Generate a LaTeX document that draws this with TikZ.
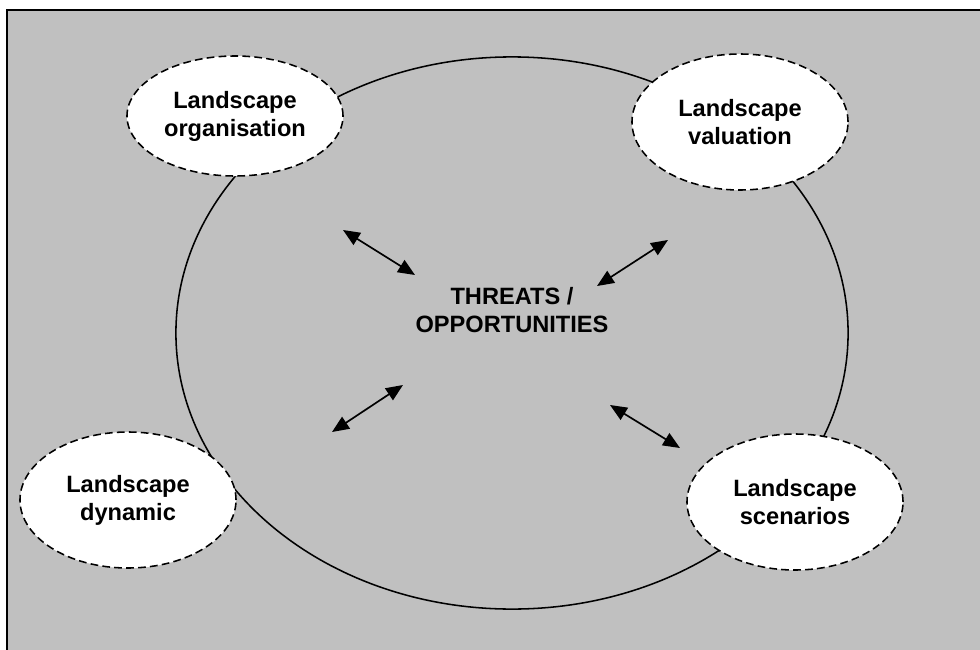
\documentclass[tikz,border=0pt]{standalone}
\usepackage{fontspec}
\setmainfont{Liberation Sans}
\usetikzlibrary{arrows.meta}
\usetikzlibrary{positioning}
\usetikzlibrary{shapes.geometric}

\tikzset{
  topic/.style={ellipse, draw, fill=white, line width=1.1pt,
    dash pattern=on 5.5pt off 3pt, minimum width=5.4cm, minimum height=3.4cm,
    inner sep=0pt, align=center,
    font=\fontsize{16.8pt}{19.9pt}\selectfont\bfseries},
  link/.style={{Triangle[length=12pt,width=10pt]}-{Triangle[length=12pt,width=10pt]}, line width=1.2pt},
}

\begin{document}
\begin{tikzpicture}[x=0.025cm, y=-0.025cm]
        \useasboundingbox (0,0) rectangle (980,650);
        \clip (0,0) rectangle (980,650);
        \draw[fill={rgb,255:red,192;green,192;blue,192}, line width=1.5pt] (7,10) rectangle (1000,670);

        % outer ring
        \draw[line width=1.1pt] (512,333) ellipse [x radius=8.4cm, y radius=6.9cm];

        \node[topic, minimum height=3.0cm] (organisation) at (235,116) {Landscape\\organisation};
        \node[topic] (valuation) at (740,122) {Landscape\\valuation};
        \node[topic] (dynamic) at (128,500) {Landscape\\dynamic};
        \node[topic] (scenarios) at (795,502) {Landscape\\scenarios};

        \node[align=center, font=\fontsize{16.8pt}{19.9pt}\selectfont\bfseries] (threats) at (512,310) {THREATS /\\OPPORTUNITIES};

        \coordinate (a1) at (343,230); \coordinate (a2) at (415,275);
        \coordinate (b1) at (597,286); \coordinate (b2) at (668,240);
        \coordinate (c1) at (332,432); \coordinate (c2) at (403,385);
        \coordinate (d1) at (610,405); \coordinate (d2) at (680,448);

        \draw[link] (a1) -- (a2);
        \draw[link] (b1) -- (b2);
        \draw[link] (c1) -- (c2);
        \draw[link] (d1) -- (d2);
\end{tikzpicture}
\end{document}
